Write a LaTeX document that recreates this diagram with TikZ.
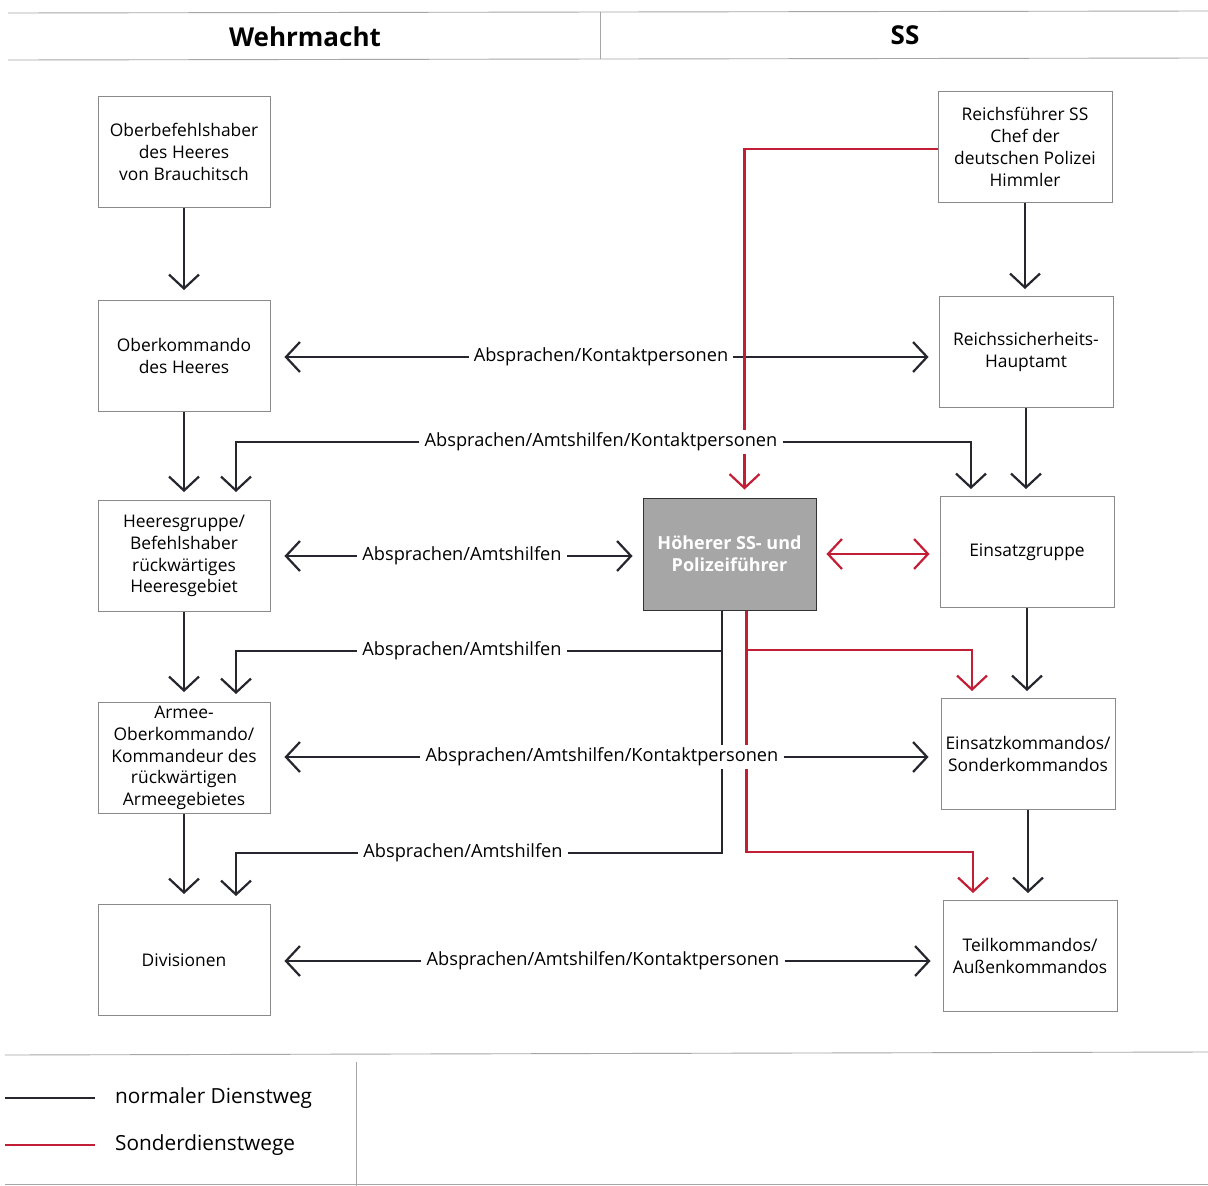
\documentclass[tikz,border=0pt]{standalone}
\usepackage{fontspec}
\setmainfont{Open Sans}
\usetikzlibrary{arrows.meta}
\pgfdeclarelayer{bg}
\pgfsetlayers{bg,main}
\definecolor{navy}{HTML}{26262F}
\definecolor{redline}{HTML}{C21F37}
\definecolor{boxgray}{HTML}{8A8A8A}
\definecolor{hsgray}{HTML}{A6A6A6}
\newcommand{\boxfont}{\fontsize{17.4}{21.8}\selectfont}
\newcommand{\lblfont}{\fontsize{18.2}{22}\selectfont}
\newcommand{\legfont}{\fontsize{20.8}{24}\selectfont}
\newcommand{\hdrfont}{\fontsize{26}{30}\selectfont\bfseries}
\begin{document}
\begin{tikzpicture}[x=1pt,y=-1pt,
  box/.style={draw=boxgray, line width=0.9pt, minimum width=172pt, minimum height=111pt, align=center, font=\boxfont, inner sep=2pt},
  rbox/.style={box, minimum width=174pt},
  lbl/.style={fill=white, inner xsep=5pt, inner ysep=3pt, font=\lblfont},
  conn/.style={draw=navy, line width=2.2pt},
  sconn/.style={draw=redline, line width=2.2pt},
  arr/.style={-{Straight Barb[length=14pt,width=30pt]}},
  arrs/.style={{Straight Barb[length=14pt,width=30pt]}-{Straight Barb[length=14pt,width=30pt]}},
  rule/.style={draw=gray!70, line width=0.9pt}
]
\useasboundingbox (0,0) rectangle (1208,1186);
\begin{pgfonlayer}{bg}
\fill[white] (0,0) rectangle (1208,1186);
\end{pgfonlayer}

% header
\draw[rule] (8,13) -- (1208,11);
\draw[rule] (8,60) -- (1208,58);
\draw[rule] (600,12) -- (600,59);
\node[font=\hdrfont] (hw) at (305,37) {Wehrmacht};
\node[font=\hdrfont] (hs2) at (905,35) {SS};

% Wehrmacht column
\node[box] (ob) at (184,152) {Oberbefehlshaber\\des Heeres\\von Brauchitsch};
\node[box] (ok) at (184,356) {Oberkommando\\des Heeres};
\node[box] (hg) at (184,556) {Heeresgruppe/\\Befehlshaber\\rückwärtiges\\Heeresgebiet};
\node[box] (ao) at (184,758) {Armee-\\Oberkommando/\\Kommandeur des\\rückwärtigen\\Armeegebietes};
\node[box] (div) at (184,960) {Divisionen};

% SS column
\node[rbox] (rf) at (1025,147) {Reichsführer SS\\Chef der\\deutschen Polizei\\Himmler};
\node[rbox] (rsha) at (1026,352) {Reichssicherheits-\\Hauptamt};
\node[rbox] (eg) at (1027,552) {Einsatzgruppe};
\node[rbox] (ek) at (1028,754) {Einsatzkommandos/\\Sonderkommandos};
\node[rbox] (tk) at (1030,956) {Teilkommandos/\\Außenkommandos};

% HSSPF
\node[box, fill=hsgray, draw=black!80, minimum width=173pt, minimum height=112pt, text=white, font=\fontsize{18}{22}\selectfont\bfseries] (hs) at (729.5,554) {Höherer SS- und\\Polizeiführer};

% labels
\node[lbl] (l1) at (601,357) {Absprachen/Kontaktpersonen};
\node[lbl] (l2) at (601,442) {Absprachen/Amtshilfen/Kontaktpersonen};
\node[lbl] (l3) at (462,556) {Absprachen/Amtshilfen};
\node[lbl] (l4) at (462,651) {Absprachen/Amtshilfen};
\node[lbl] (l5) at (602,757) {Absprachen/Amtshilfen/Kontaktpersonen};
\node[lbl] (l6) at (463,853) {Absprachen/Amtshilfen};
\node[lbl] (l7) at (603,961) {Absprachen/Amtshilfen/Kontaktpersonen};

\begin{pgfonlayer}{bg}
% left vertical chain
\draw[conn,arr,shorten >=10pt] (ob) -- (ok);
\draw[conn,arr,shorten >=8pt] (ok) -- (hg);
\draw[conn,arr,shorten >=10pt] (hg) -- (ao);
\draw[conn,arr,shorten >=10pt] (ao) -- (div);
% right vertical chain
\draw[conn,arr,shorten >=7pt] (rf.south) -- (rf.south |- rsha.north);
\draw[conn,arr,shorten >=7pt] (rsha.south) -- (rsha.south |- eg.north);
\draw[conn,arr,shorten >=7pt] (eg.south) -- (eg.south |- ek.north);
\draw[conn,arr,shorten >=7pt] (ek.south) -- (ek.south |- tk.north);

% horizontal relations
\draw[conn,arr,shorten >=14pt] (l1.west) -- (l1.west -| ok.east);
\draw[conn,arr,shorten >=10pt] (l1.east) -- (l1.east -| rsha.west);
\draw[conn,arr,shorten >=8pt] (l2.west) -| ([xshift=52]hg.north);
\draw[conn,arr,shorten >=7pt] (l2.east) -| ([xshift=-56]eg.north);
\draw[conn,arr,shorten >=14pt] (l3.west) -- (l3.west -| hg.east);
\draw[conn,arr,shorten >=10pt] (l3.east) -- (l3.east -| hs.west);
\draw[conn,arr,shorten >=14pt] (l5.west) -- (l5.west -| ao.east);
\draw[conn,arr,shorten >=12pt] (l5.east) -- (l5.east -| ek.west);
\draw[conn,arr,shorten >=14pt] (l7.west) -- (l7.west -| div.east);
\draw[conn,arr,shorten >=12pt] (l7.east) -- (l7.east -| tk.west);

% HSSPF normal channels
\coordinate (hb) at ([xshift=-7.5]hs.south);
\draw[conn] (hb) |- (l6.east);
\draw[conn] (l4.east) -- (l4.east -| hb);
\draw[conn,arr,shorten >=8pt] (l4.west) -| ([xshift=52]ao.north);
\draw[conn,arr,shorten >=8pt] (l6.west) -| ([xshift=52]div.north);

% special channels (red)
\coordinate (rt) at ([xshift=15]hs.north);
\draw[sconn,arr,shorten >=8pt] ([yshift=-2]rf.west) -| (rt);
\draw[sconn,arrs,shorten >=10pt,shorten <=10pt] (hs.east) -- (hs.east -| eg.west);
\coordinate (rb) at ([xshift=17]hs.south);
\draw[sconn,arr,shorten >=7pt] (rb) |- ([yshift=1]rb |- l6) -| ([xshift=-57]tk.north);
\draw[sconn,arr,shorten >=7pt] ([yshift=1]rb |- l4) -| ([xshift=-56]ek.north);
\end{pgfonlayer}

% legend
\draw[rule] (5,1055) -- (1208,1052);
\draw[rule] (5,1184) -- (1208,1184);
\draw[rule] (356,1062) -- (356,1186);
\coordinate (lga) at (5,1098);
\coordinate (lgb) at (95,1098);
\coordinate (lgc) at (5,1145);
\coordinate (lgd) at (95,1145);
\draw[navy, line width=2pt] (lga) -- (lgb);
\draw[redline, line width=2pt] (lgc) -- (lgd);
\node[anchor=west, font=\legfont, inner sep=0pt] (n1) at (115,1098) {normaler Dienstweg};
\node[anchor=west, font=\legfont, inner sep=0pt] (n2) at (115,1145) {Sonderdienstwege};
\end{tikzpicture}
\end{document}
